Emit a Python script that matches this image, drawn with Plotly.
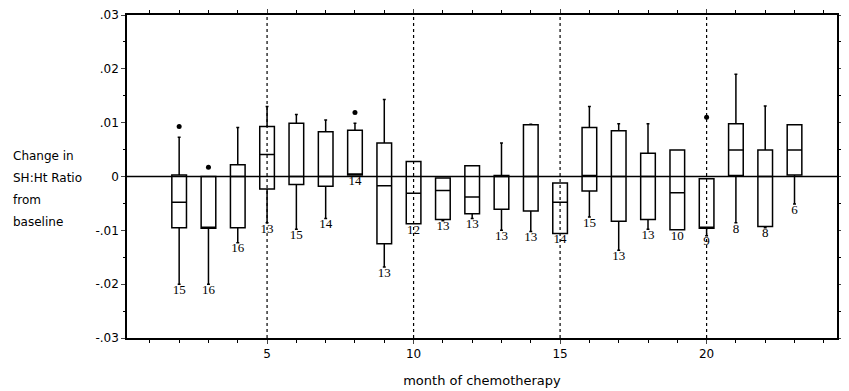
import plotly.graph_objects as go

months = list(range(2, 24))
q3 = [0.0003, 0.0, 0.0022, 0.0093, 0.0099, 0.0083, 0.0086, 0.0062, 0.0028, -0.0003, 0.0020,
      0.0002, 0.0096, -0.0012, 0.0091, 0.0085, 0.0043, 0.0049, -0.0004, 0.0098, 0.0049, 0.0096]
median = [-0.0048, -0.0096, 0.0, 0.0041, 0.0, 0.0, 0.0003, -0.0017, -0.0031, -0.0026, -0.0038,
          0.0, 0.0, -0.0048, 0.0002, 0.0, 0.0, -0.0030, -0.0096, 0.0049, 0.0, 0.0049]
q1 = [-0.0095, -0.0096, -0.0095, -0.0023, -0.0015, -0.0018, 0.0003, -0.0125, -0.0088, -0.0080, -0.0069,
      -0.0061, -0.0064, -0.0106, -0.0027, -0.0083, -0.0080, -0.0099, -0.0096, 0.0002, -0.0093, 0.0003]
upper = [0.0073, 0.0, 0.0091, 0.0130, 0.0115, 0.0105, 0.0099, 0.0143, 0.0028, -0.0003, 0.0020,
         0.0062, 0.0097, -0.0012, 0.0130, 0.0098, 0.0098, 0.0049, -0.0004, 0.0190, 0.0131, 0.0096]
lower = [-0.0200, -0.0200, -0.0123, -0.0086, -0.0098, -0.0078, 0.0003, -0.0168, -0.0088, -0.0082, -0.0078,
         -0.0100, -0.0102, -0.0106, -0.0075, -0.0137, -0.0098, -0.0099, -0.0110, -0.0086, -0.0095, -0.0051]
counts = [15, 16, 16, 13, 15, 14, 14, 13, 12, 13, 13, 13, 13, 14, 15, 13, 13, 10, 9, 8, 8, 6]

outlier_months = [2, 3, 8, 20]
outlier_vals = [0.0093, 0.0017, 0.0119, 0.0110]

y_ticks = [0.03, 0.02, 0.01, 0, -0.01, -0.02, -0.03]
y_ticktext = [".03", ".02", ".01", "0", "-.01", "-.02", "-.03"]
x_ticks = [5, 10, 15, 20]
ylabel_lines = ["Change in", "SH:Ht Ratio", "from", "baseline"]

fig = go.Figure()
fig.add_trace(go.Box(
    x=months, q1=q1, median=median, q3=q3,
    lowerfence=lower, upperfence=upper,
    width=0.5, whiskerwidth=0.2,
    line=dict(color="black", width=1.5),
    fillcolor="rgba(0,0,0,0)",
    boxpoints=False, showlegend=False, hoverinfo="skip"
))
fig.add_trace(go.Scatter(
    x=outlier_months, y=outlier_vals, mode="markers",
    marker=dict(color="black", size=5), showlegend=False
))
fig.add_trace(go.Scatter(
    x=months, y=lower, mode="text", text=[str(c) for c in counts],
    textposition="bottom center",
    textfont=dict(family="Liberation Serif", size=13, color="black"),
    showlegend=False
))

# dotted reference lines every 5 months, and the zero line on top of boxes
for m in x_ticks:
    fig.add_shape(type="line", x0=m, x1=m, y0=-0.03, y1=0.03, layer="above",
                  line=dict(color="black", width=1.2, dash="dot"))
fig.add_shape(type="line", xref="paper", x0=0, x1=1, y0=0, y1=0, layer="above",
              line=dict(color="black", width=1.5))

for i, t in enumerate(ylabel_lines):
    fig.add_annotation(text=t, xref="paper", yref="paper", x=-0.164, y=0.563 - i * 0.068,
                       xanchor="left", yanchor="middle", showarrow=False,
                       font=dict(size=12, color="black"))

fig.update_xaxes(
    range=[0.22, 24.45], tickvals=x_ticks, ticks="outside", ticklen=4,
    minor=dict(dtick=1, ticks="outside", ticklen=3, tickcolor="black"),
    showline=True, linecolor="black", linewidth=1.5, mirror="ticks",
    showgrid=False, zeroline=False, automargin=False,
    title=dict(text="month of chemotherapy", font=dict(size=13, color="black"), standoff=16),
    tickfont=dict(size=12, color="black")
)
fig.update_yaxes(
    range=[-0.03, 0.03], tickvals=y_ticks, ticktext=y_ticktext, ticks="outside", ticklen=4,
    minor=dict(dtick=0.005, ticks="outside", ticklen=2, tickcolor="black"),
    showline=True, linecolor="black", linewidth=1.5, mirror="ticks",
    showgrid=False, zeroline=False, automargin=False, ticklabeloverflow="allow",
    tickfont=dict(size=12, color="black")
)
# page body adds an 8px offset, so the figure is 8px smaller and shifted margins
fig.update_layout(
    width=841, height=383,
    paper_bgcolor="white", plot_bgcolor="white",
    font=dict(family="DejaVu Sans", color="black"),
    margin=dict(l=119, r=12, t=7, b=53)
)
fig.write_html("out.html")
